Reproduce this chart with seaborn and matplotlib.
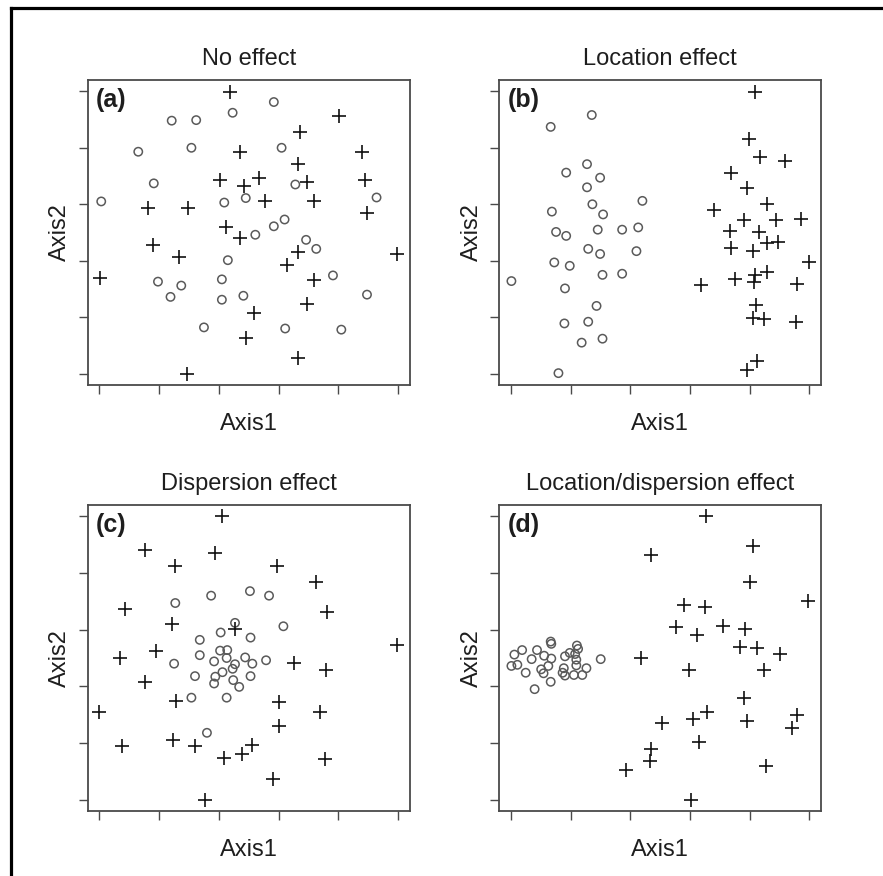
import numpy as np
import pandas as pd
import matplotlib
matplotlib.use("Agg")
import matplotlib.pyplot as plt
import seaborn as sns
from matplotlib.lines import Line2D

# ---------------- data (tick units 0..5) ----------------
titles = ["No effect", "Location effect", "Dispersion effect", "Location/dispersion effect"]
panel_tags = ["(a)", "(b)", "(c)", "(d)"]
x_label = "Axis1"
y_label = "Axis2"
tick_positions = [0, 1, 2, 3, 4, 5]

# (a) No effect
a_circ_x = [2.92, 2.23, 1.21, 1.62, 0.65, 1.54, 3.05, 0.91, 3.28, 0.03, 2.09, 2.45, 4.64, 3.10, 2.92,
            2.61, 3.46, 3.63, 2.15, 2.05, 0.98, 1.37, 1.19, 2.05, 2.41, 3.91, 4.48, 1.75, 3.11, 4.05]
a_circ_y = [4.81, 4.62, 4.48, 4.49, 3.93, 4.00, 4.00, 3.37, 3.35, 3.05, 3.03, 3.11, 3.12, 2.73, 2.61,
            2.46, 2.37, 2.21, 2.01, 1.67, 1.63, 1.56, 1.36, 1.31, 1.38, 1.74, 1.40, 0.82, 0.80, 0.78]
a_plus_x = [2.19, 4.01, 3.35, 2.35, 4.39, 3.32, 2.02, 2.67, 2.42, 3.48, 4.45, 2.77, 3.60, 0.81, 1.48,
            4.48, 2.12, 2.35, 0.90, 3.33, 1.34, 4.98, 3.14, 0.01, 3.60, 3.48, 2.58, 2.45, 3.33, 1.46]
a_plus_y = [4.99, 4.57, 4.28, 3.93, 3.93, 3.71, 3.43, 3.46, 3.33, 3.39, 3.43, 3.05, 3.05, 2.93, 2.94,
            2.85, 2.59, 2.40, 2.28, 2.15, 2.07, 2.12, 1.93, 1.70, 1.66, 1.23, 1.08, 0.64, 0.28, 0.00]

# (b) Location effect
b_circ_x = [1.35, 0.66, 1.27, 0.92, 1.49, 1.27, 2.20, 1.36, 0.68, 1.54, 1.45, 1.86, 2.13, 0.75, 0.92,
            1.29, 1.49, 2.10, 0.72, 0.98, 1.53, 1.86, 0.00, 0.90, 1.43, 0.89, 1.29, 1.18, 1.53, 0.79]
b_circ_y = [4.58, 4.37, 3.71, 3.56, 3.47, 3.30, 3.06, 3.00, 2.87, 2.82, 2.55, 2.55, 2.59, 2.51, 2.44,
            2.21, 2.12, 2.17, 1.97, 1.91, 1.75, 1.77, 1.64, 1.51, 1.20, 0.89, 0.92, 0.55, 0.62, 0.01]
b_plus_x = [4.09, 3.99, 4.17, 4.59, 3.69, 3.95, 4.29, 3.41, 3.90, 4.45, 4.86, 3.67, 4.16, 4.30, 4.48,
            3.69, 4.05, 5.00, 4.09, 4.30, 3.75, 4.08, 3.18, 4.79, 4.10, 4.06, 4.24, 4.78, 4.13, 3.96]
b_plus_y = [4.99, 4.16, 3.84, 3.76, 3.55, 3.28, 3.00, 2.90, 2.72, 2.72, 2.74, 2.52, 2.51, 2.31, 2.33,
            2.23, 2.18, 1.98, 1.75, 1.80, 1.67, 1.63, 1.57, 1.58, 1.21, 0.98, 0.96, 0.92, 0.23, 0.07]

# (c) Dispersion effect
c_circ_x = [2.52, 1.87, 2.84, 1.27, 2.27, 3.08, 2.03, 2.53, 1.68, 2.02, 2.14, 1.68, 2.13, 2.44, 1.92,
            2.27, 2.79, 2.56, 1.25, 2.23, 2.06, 2.53, 1.60, 1.94, 1.92, 2.24, 2.34, 1.54, 2.13, 1.80]
c_circ_y = [3.68, 3.60, 3.60, 3.47, 3.12, 3.06, 2.95, 2.86, 2.82, 2.63, 2.64, 2.55, 2.50, 2.51, 2.44,
            2.39, 2.46, 2.40, 2.40, 2.31, 2.25, 2.18, 2.18, 2.17, 2.05, 2.11, 1.99, 1.80, 1.80, 1.18]
c_plus_x = [2.06, 0.76, 1.94, 1.27, 2.97, 3.63, 0.42, 3.81, 1.22, 2.27, 4.99, 0.95, 0.35, 3.26, 3.80,
            0.76, 1.29, 3.00, 0.00, 3.70, 3.00, 1.23, 0.38, 1.60, 2.56, 2.39, 2.09, 3.77, 2.90, 1.77]
c_plus_y = [5.00, 4.40, 4.35, 4.12, 4.12, 3.85, 3.37, 3.31, 3.10, 3.01, 2.73, 2.63, 2.50, 2.42, 2.28,
            2.08, 1.74, 1.73, 1.54, 1.54, 1.30, 1.05, 0.95, 0.95, 0.97, 0.81, 0.73, 0.72, 0.37, 0.00]

# (d) Location/dispersion effect
d_circ_x = [0.67, 0.66, 1.10, 1.12, 0.18, 0.43, 0.05, 0.34, 0.55, 0.67, 0.90, 0.98, 1.09, 1.50, 0.00,
            0.10, 0.50, 0.62, 0.24, 0.54, 0.66, 0.86, 0.90, 1.05, 1.19, 1.26, 1.09, 0.39, 1.07, 0.88]
d_circ_y = [2.75, 2.79, 2.72, 2.66, 2.64, 2.64, 2.56, 2.48, 2.54, 2.49, 2.53, 2.59, 2.47, 2.48, 2.36,
            2.38, 2.30, 2.36, 2.24, 2.23, 2.08, 2.24, 2.19, 2.20, 2.20, 2.32, 2.37, 1.95, 2.57, 2.32]
d_plus_x = [3.27, 4.06, 2.34, 4.00, 4.99, 2.90, 3.26, 2.77, 3.55, 3.93, 3.12, 3.84, 4.13, 4.51, 2.17,
            2.98, 4.24, 3.91, 3.29, 3.05, 3.96, 4.79, 4.72, 2.53, 3.15, 2.35, 2.33, 1.92, 4.27, 3.02]
d_plus_y = [5.00, 4.48, 4.31, 3.85, 3.50, 3.43, 3.40, 3.04, 3.07, 3.01, 2.91, 2.70, 2.67, 2.57, 2.50,
            2.29, 2.28, 1.80, 1.54, 1.43, 1.39, 1.49, 1.27, 1.36, 1.01, 0.90, 0.69, 0.53, 0.59, 0.00]

panels = [
    (a_circ_x, a_circ_y, a_plus_x, a_plus_y),
    (b_circ_x, b_circ_y, b_plus_x, b_plus_y),
    (c_circ_x, c_circ_y, c_plus_x, c_plus_y),
    (d_circ_x, d_circ_y, d_plus_x, d_plus_y),
]

# ---------------- styling ----------------
sns.set_style("white")
plt.rcParams["font.family"] = ["Liberation Sans", "DejaVu Sans"]

W, H = 883, 876
fig = plt.figure(figsize=(W / 100, H / 100), dpi=100)

# axes boxes in pixels: (left, top, right, bottom)
boxes = [
    (87.5, 80, 410, 385),
    (499.5, 80, 821, 385),
    (87.5, 505, 410, 811),
    (499.5, 505, 821, 811),
]

spine_col = "#4a4a4a"
text_col = "#1e1e1e"

for i, (cx, cy, px, py) in enumerate(panels):
    l, t, r, b = boxes[i]
    ax = fig.add_axes([l / W, 1 - b / H, (r - l) / W, (b - t) / H])
    df_c = pd.DataFrame({"x": cx, "y": cy})
    df_p = pd.DataFrame({"x": px, "y": py})
    sns.scatterplot(data=df_c, x="x", y="y", ax=ax, marker="o", s=36,
                    color="#555555", linewidth=1.1, legend=False)
    coll = ax.collections[-1]
    coll.set_facecolor("none")
    coll.set_edgecolor("#5a5a5a")
    coll.set_linewidth(1.1)
    sns.scatterplot(data=df_p, x="x", y="y", ax=ax, marker="+", s=95,
                    color="#111111", linewidth=1.2, legend=False)

    ax.set_xlim(-0.2, 5.2)
    ax.set_ylim(-0.2, 5.2)
    ax.set_xticks(tick_positions)
    ax.set_yticks(tick_positions)
    ax.set_xticklabels([])
    ax.set_yticklabels([])
    ax.tick_params(axis="both", which="both", direction="out", length=6.5,
                   width=1.0, color=spine_col, bottom=True, left=True)
    for sp in ax.spines.values():
        sp.set_color(spine_col)
        sp.set_linewidth(1.3)

    ax.set_xlabel(x_label, fontsize=17, color=text_col, labelpad=10.5)
    ax.set_ylabel(y_label, fontsize=17, color=text_col, labelpad=2)
    ax.set_title(titles[i], fontsize=17, color=text_col, pad=10.5)
    ax.text(0.025, 0.975, panel_tags[i], transform=ax.transAxes, ha="left", va="top",
            fontsize=18, fontweight="bold", color=text_col)

# partial frame around the figure (left and top edges)
fig.add_artist(Line2D([11 / W, 11 / W], [0, 1 - 8 / H], transform=fig.transFigure,
                      color="black", linewidth=2.3, solid_capstyle="projecting"))
fig.add_artist(Line2D([11 / W, 1], [1 - 8 / H, 1 - 8 / H], transform=fig.transFigure,
                      color="black", linewidth=2.3, solid_capstyle="projecting"))

fig.savefig("out.png", dpi=100)
